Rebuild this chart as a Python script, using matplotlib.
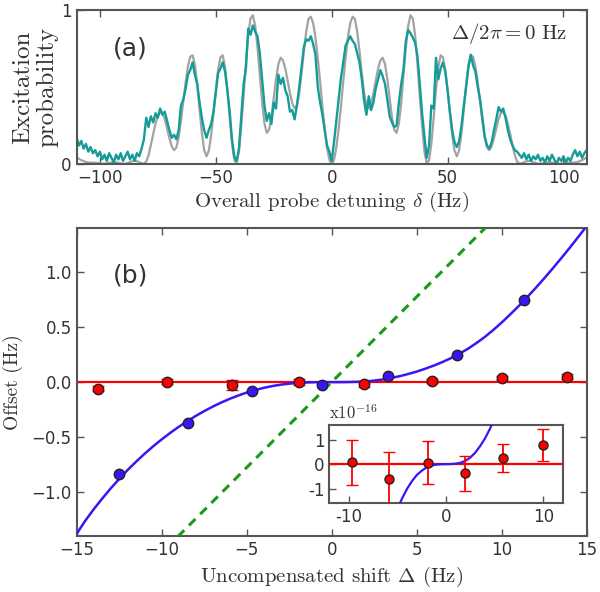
import numpy as np
import matplotlib
matplotlib.use("Agg")
import matplotlib.pyplot as plt

plt.rcParams['mathtext.fontset'] = 'cm'

# --- panel (a): Ramsey-type fringe pattern at zero uncompensated shift ---
detuning_hz = np.arange(-110, 111)

theory_prob = [
    0.042, 0.033, 0.025, 0.018, 0.013, 0.010, 0.009, 0.009, 0.008, 0.006,
    0.004, 0.002, 0.002, 0.004, 0.007, 0.010, 0.012, 0.011, 0.008, 0.004,
    0.001, 0.002, 0.006, 0.012, 0.018, 0.020, 0.018, 0.012, 0.005, 0.002,
    0.015, 0.056, 0.123, 0.195, 0.262, 0.314, 0.339, 0.331, 0.291, 0.231,
    0.167, 0.115, 0.090, 0.107, 0.174, 0.282, 0.407, 0.532, 0.634, 0.697,
    0.706, 0.645, 0.516, 0.355, 0.202, 0.090, 0.050, 0.086, 0.185, 0.327,
    0.480, 0.610, 0.693, 0.706, 0.630, 0.483, 0.300, 0.131, 0.024, 0.005,
    0.081, 0.247, 0.441, 0.654, 0.835, 0.946, 0.966, 0.897, 0.758, 0.576,
    0.399, 0.263, 0.202, 0.222, 0.304, 0.426, 0.552, 0.649, 0.690, 0.673,
    0.619, 0.542, 0.461, 0.394, 0.362, 0.377, 0.459, 0.587, 0.733, 0.860,
    0.943, 0.957, 0.915, 0.823, 0.688, 0.537, 0.374, 0.228, 0.105, 0.027,
    0.0,
    0.027, 0.105, 0.228, 0.374, 0.537, 0.688, 0.823, 0.915, 0.957, 0.943,
    0.860, 0.733, 0.587, 0.459, 0.377, 0.362, 0.394, 0.461, 0.542, 0.619,
    0.673, 0.690, 0.649, 0.552, 0.426, 0.304, 0.222, 0.202, 0.263, 0.399,
    0.576, 0.758, 0.897, 0.966, 0.946, 0.835, 0.654, 0.441, 0.247, 0.081,
    0.005, 0.024, 0.131, 0.300, 0.483, 0.630, 0.706, 0.693, 0.610, 0.480,
    0.327, 0.185, 0.086, 0.050, 0.090, 0.202, 0.355, 0.516, 0.645, 0.706,
    0.697, 0.634, 0.532, 0.407, 0.282, 0.174, 0.107, 0.090, 0.115, 0.167,
    0.231, 0.291, 0.331, 0.339, 0.314, 0.262, 0.195, 0.123, 0.056, 0.015,
    0.002, 0.005, 0.012, 0.018, 0.020, 0.018, 0.012, 0.006, 0.002, 0.001,
    0.004, 0.008, 0.011, 0.012, 0.010, 0.007, 0.004, 0.002, 0.002, 0.004,
    0.006, 0.008, 0.009, 0.009, 0.010, 0.013, 0.018, 0.025, 0.033, 0.042,
]

measured_prob = [
    0.17, 0.12, 0.15, 0.10, 0.13, 0.08, 0.11, 0.07, 0.09, 0.05,
    0.08, 0.03, 0.06, 0.02, 0.07, 0.04, 0.01, 0.06, 0.03, 0.07,
    0.02, 0.05, 0.08, 0.03, 0.06, 0.02, 0.07, 0.05, 0.10, 0.16,
    0.30, 0.24, 0.31, 0.27, 0.33, 0.30, 0.36, 0.32, 0.34, 0.28,
    0.22, 0.17, 0.19, 0.16, 0.22, 0.38, 0.42, 0.49, 0.58, 0.61,
    0.66, 0.58, 0.52, 0.40, 0.30, 0.22, 0.17, 0.22, 0.26, 0.34,
    0.46, 0.59, 0.62, 0.66, 0.60, 0.48, 0.34, 0.16, 0.05, 0.02,
    0.10, 0.31, 0.52, 0.62, 0.88, 0.84, 0.90, 0.86, 0.83, 0.72,
    0.55, 0.38, 0.28, 0.33, 0.26, 0.40, 0.36, 0.58, 0.52, 0.56,
    0.48, 0.44, 0.34, 0.35, 0.29, 0.38, 0.50, 0.63, 0.76, 0.81,
    0.80, 0.83, 0.78, 0.71, 0.50, 0.40, 0.32, 0.22, 0.12, 0.08,
    0.02,
    0.14, 0.28, 0.42, 0.56, 0.66, 0.77, 0.80, 0.83, 0.80, 0.78,
    0.72, 0.66, 0.55, 0.41, 0.32, 0.44, 0.35, 0.40, 0.49, 0.55,
    0.61, 0.57, 0.52, 0.42, 0.31, 0.27, 0.24, 0.25, 0.40, 0.52,
    0.62, 0.80, 0.87, 0.85, 0.82, 0.79, 0.70, 0.52, 0.33, 0.18,
    0.04, 0.12, 0.38, 0.36, 0.69, 0.55, 0.62, 0.66, 0.60, 0.48,
    0.34, 0.22, 0.14, 0.11, 0.15, 0.25, 0.38, 0.50, 0.63, 0.71,
    0.64, 0.60, 0.50, 0.42, 0.30, 0.18, 0.12, 0.10, 0.14, 0.22,
    0.29, 0.37, 0.34, 0.36, 0.30, 0.22, 0.16, 0.12, 0.09, 0.08,
    0.06, 0.04, 0.07, 0.03, 0.06, 0.02, 0.05, 0.03, 0.06, 0.02,
    0.04, 0.01, 0.05, 0.02, 0.06, 0.03, 0.00, 0.04, 0.02, 0.05,
    0.01, 0.04, 0.02, 0.06, 0.09, 0.05, 0.08, 0.04, 0.07, 0.09,
]

# --- panel (b): frequency offset vs uncompensated shift ---
curve_shift = np.arange(-15, 15.5, 0.5)
hyper_curve = [
    -1.380, -1.262, -1.157, -1.060, -0.967, -0.881, -0.799, -0.723, -0.651, -0.584,
    -0.521, -0.462, -0.407, -0.356, -0.308, -0.264, -0.223, -0.186, -0.152, -0.122,
    -0.095, -0.072, -0.052, -0.036, -0.023, -0.014, -0.007, -0.003, -0.001, -0.0002,
    0.0,
    0.0002, 0.001, 0.003, 0.007, 0.014, 0.024, 0.038, 0.054, 0.074, 0.096,
    0.122, 0.150, 0.182, 0.217, 0.258, 0.302, 0.354, 0.410, 0.474, 0.542,
    0.616, 0.692, 0.773, 0.857, 0.944, 1.034, 1.127, 1.222, 1.320, 1.420,
]

ramsey_shift = [-15, 15]
ramsey_offset = [-2.33, 2.33]

blue_shift = [-12.49, -8.47, -4.71, -0.59, 3.33, 7.39, 11.31]
blue_offset = [-0.84, -0.372, -0.085, -0.024, 0.055, 0.245, 0.745]

red_shift = [-13.73, -9.67, -5.86, -1.90, 1.92, 5.88, 10.0, 13.82]
red_offset = [-0.06, 0.004, -0.03, 0.003, -0.02, 0.013, 0.035, 0.05]
red_err = [0.025, 0.025, 0.045, 0.025, 0.02, 0.02, 0.02, 0.025]

# inset: the same red points as fractional offsets (x1e-16)
inset_offset = [0.08, -0.60, 0.06, -0.38, 0.26, 0.78]
inset_err = [0.92, 1.10, 0.87, 0.71, 0.56, 0.65]
clock_freq_hz = 518e12

teal = '#149c98'
grey = '#a3a3a3'
blue = '#3c14f5'
green = '#1a9a1a'
spine_col = '#555555'
text_col = '#333333'


def style_axes(ax, labelsize=12):
    for s in ax.spines.values():
        s.set_color(spine_col)
        s.set_linewidth(1.5)
    ax.tick_params(direction='in', top=True, right=True, length=5, width=1,
                   color=spine_col, labelsize=labelsize, labelcolor=text_col)


fig = plt.figure(figsize=(6, 5.92), dpi=100)
ax1 = fig.add_axes([0.1278, 0.723, 0.850, 0.260])
ax2 = fig.add_axes([0.1278, 0.0946, 0.850, 0.5198])
axin = fig.add_axes([0.5488, 0.1498, 0.389, 0.1323])

# (a)
ax1.plot(detuning_hz, theory_prob, color=grey, lw=1.6)
ax1.plot(detuning_hz, measured_prob, color=teal, lw=1.7)
ax1.set_xlim(-110, 110)
ax1.set_ylim(0, 1)
ax1.set_xticks([-100, -50, 0, 50, 100])
ax1.set_yticks([0, 1])
ax1.set_yticklabels(['0', '1'])
style_axes(ax1)
ax1.set_xlabel(r'Overall probe detuning $\delta$ (Hz)', fontfamily='cmr10',
               fontsize=15, color=text_col, labelpad=2)
ax1.set_ylabel('Excitation\nprobability', fontfamily='cmr10', fontsize=18,
               color=text_col, labelpad=2, linespacing=1.15)
ax1.text(0.105, 0.75, '(a)', transform=ax1.transAxes, fontsize=18,
         color=text_col, ha='center', va='center')
ax1.text(0.961, 0.85, r'$\Delta/2\pi = 0\ \mathrm{Hz}$', transform=ax1.transAxes,
         fontsize=15, color=text_col, ha='right', va='center')

# (b)
ax2.axhline(0, color='red', lw=1.6, zorder=2)
ax2.plot(curve_shift, hyper_curve, color=blue, lw=1.8, zorder=3)
ax2.plot(ramsey_shift, ramsey_offset, color=green, lw=2.2,
         ls=(0, (3, 2.2)), zorder=3)
ax2.errorbar(red_shift, red_offset, yerr=red_err, fmt='o', ms=7.5,
             mfc='red', mec='#222222', mew=1, ecolor='red', elinewidth=1.2,
             capsize=4, zorder=5)
ax2.plot(blue_shift, blue_offset, 'o', ms=7.5, mfc=blue, mec='#222222',
         mew=1, zorder=6)
ax2.set_xlim(-15, 15)
ax2.set_ylim(-1.4, 1.4)
ax2.set_xticks([-15, -10, -5, 0, 5, 10, 15])
ax2.set_yticks([-1.0, -0.5, 0.0, 0.5, 1.0])
style_axes(ax2)
ax2.set_xlabel(r'Uncompensated shift $\Delta$ (Hz)', fontfamily='cmr10',
               fontsize=15, color=text_col, labelpad=4)
ax2.set_ylabel('Offset (Hz)', fontfamily='cmr10', fontsize=14,
               color=text_col, labelpad=6)
ax2.text(0.105, 0.848, '(b)', transform=ax2.transAxes, fontsize=18,
         color=text_col, ha='center', va='center')

# inset
frac_curve = np.array(hyper_curve) / clock_freq_hz * 1e16
axin.axhline(0, color='red', lw=1.6, zorder=2)
axin.plot(curve_shift, frac_curve, color=blue, lw=1.6, zorder=3)
axin.errorbar(red_shift[1:-1], inset_offset, yerr=inset_err, fmt='o', ms=6.5,
              mfc='red', mec='#222222', mew=1, ecolor='red', elinewidth=1.3,
              capsize=4, zorder=5)
axin.set_xlim(-12, 12)
axin.set_ylim(-1.6, 1.6)
axin.set_xticks([-10, 0, 10])
axin.set_xticklabels(['-10', '0', '10'])
axin.set_yticks([-1, 0, 1])
axin.set_yticklabels(['-1', '0', '1'])
style_axes(axin, labelsize=12)
axin.tick_params(top=False, right=False)
axin.text(0.0, 1.04, r'x$10^{-16}$', transform=axin.transAxes,
          fontfamily='cmr10', fontsize=12, color=text_col,
          ha='left', va='bottom')

fig.savefig('out.png', dpi=100)
